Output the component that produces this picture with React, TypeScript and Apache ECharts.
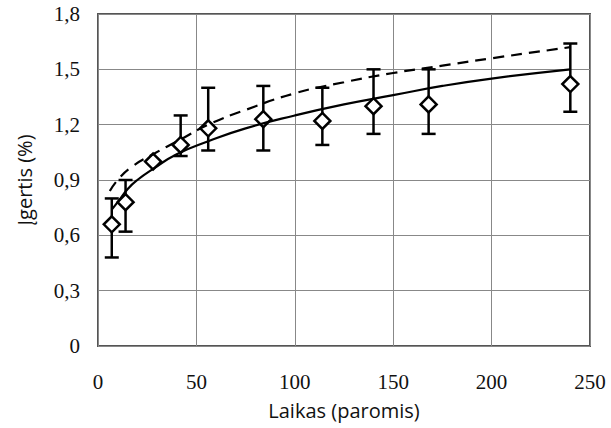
import React, { useEffect, useRef } from "react";
import * as echarts from "echarts";

// Measured points (days, uptake %)
const days = [7, 14, 28, 42, 56, 84, 114, 140, 168, 240];
const uptake = [0.66, 0.78, 1.0, 1.09, 1.18, 1.23, 1.22, 1.3, 1.31, 1.42];
const errLow = [0.48, 0.62, null, 1.03, 1.06, 1.06, 1.09, 1.15, 1.15, 1.27];
const errHigh = [0.8, 0.9, null, 1.25, 1.4, 1.41, 1.4, 1.5, 1.5, 1.64];

// Solid fitted curve
const solidX = [7, 10, 15, 20, 28, 40, 56, 75, 100, 125, 150, 175, 200, 240];
const solidY = [0.74, 0.78, 0.85, 0.9, 0.96, 1.04, 1.11, 1.18, 1.25, 1.31, 1.36, 1.41, 1.45, 1.5];

// Dashed fitted curve
const dashX = [6, 10, 17, 28, 42, 56, 75, 100, 125, 150, 175, 200, 240];
const dashY = [0.84, 0.9, 0.97, 1.04, 1.12, 1.2, 1.28, 1.37, 1.43, 1.48, 1.52, 1.56, 1.62];

const xTicks = { min: 0, max: 250, interval: 50 };
const yTicks = { min: 0, max: 1.8, interval: 0.3 };

export default function App() {
  const ref = useRef<HTMLDivElement>(null);

  useEffect(() => {
    if (!ref.current) return;
    const chart = echarts.init(ref.current, null, { renderer: "svg" });

    const errData = days
      .map((d, i) => (errLow[i] == null ? null : [d, errLow[i], errHigh[i]]))
      .filter((v) => v != null);

    const serif = "'Liberation Serif', 'Times New Roman', serif";

    chart.setOption({
      animation: false,
      backgroundColor: "#fff",
      grid: {
        left: 98,
        right: 21,
        top: 14,
        bottom: 82,
        show: true,
        borderColor: "#555",
        borderWidth: 2,
        backgroundColor: "transparent",
      },
      xAxis: {
        type: "value",
        min: xTicks.min,
        max: xTicks.max,
        interval: xTicks.interval,
        name: "Laikas (paromis)",
        nameLocation: "middle",
        nameGap: 54,
        nameTextStyle: { fontFamily: "Open Sans", fontSize: 20, color: "#111" },
        axisLine: { show: false },
        axisTick: { show: false },
        axisLabel: {
          margin: 25,
          fontFamily: serif,
          fontSize: 21,
          color: "#111",
        },
        splitLine: { show: true, lineStyle: { color: "#888", width: 1 } },
      },
      yAxis: {
        type: "value",
        min: yTicks.min,
        max: yTicks.max,
        interval: yTicks.interval,
        name: "Įgertis (%)",
        nameLocation: "middle",
        nameGap: 64,
        nameRotate: 90,
        nameTextStyle: { fontFamily: "Open Sans", fontSize: 20, color: "#111" },
        axisLine: { show: false },
        axisTick: { show: false },
        axisLabel: {
          margin: 18,
          fontFamily: serif,
          fontSize: 21,
          color: "#111",
          formatter: (v: number) => (v === 0 ? "0" : v.toFixed(1).replace(".", ",")),
        },
        splitLine: { show: true, lineStyle: { color: "#888", width: 1 } },
      },
      series: [
        {
          type: "custom",
          name: "err",
          z: 2,
          data: errData,
          renderItem: (params: any, api: any) => {
            const x = api.value(0);
            const lo = api.coord([x, api.value(1)]);
            const hi = api.coord([x, api.value(2)]);
            const cap = 7;
            const style = { stroke: "#000", lineWidth: 2.5 };
            return {
              type: "group",
              children: [
                { type: "line", shape: { x1: lo[0], y1: lo[1], x2: hi[0], y2: hi[1] }, style },
                { type: "line", shape: { x1: hi[0] - cap, y1: hi[1], x2: hi[0] + cap, y2: hi[1] }, style },
                { type: "line", shape: { x1: lo[0] - cap, y1: lo[1], x2: lo[0] + cap, y2: lo[1] }, style },
              ],
            };
          },
        },
        {
          type: "scatter",
          name: "measured",
          z: 3,
          symbol: "diamond",
          symbolSize: 16,
          itemStyle: { color: "#fff", borderColor: "#000", borderWidth: 2.5, opacity: 1 },
          data: days.map((d, i) => [d, uptake[i]]),
        },
        {
          type: "line",
          name: "solid",
          z: 4,
          smooth: true,
          showSymbol: false,
          symbol: "none",
          lineStyle: { color: "#000", width: 2.2 },
          data: solidX.map((x, i) => [x, solidY[i]]),
        },
        {
          type: "line",
          name: "dashed",
          z: 4,
          smooth: true,
          showSymbol: false,
          symbol: "none",
          lineStyle: { color: "#000", width: 2.2, type: [11, 7] },
          data: dashX.map((x, i) => [x, dashY[i]]),
        },
      ],
    });

    return () => chart.dispose();
  }, []);

  return (
    <div
      ref={ref}
      style={{ position: "fixed", left: 0, top: 0, width: 611, height: 428, background: "#fff" }}
    />
  );
}
